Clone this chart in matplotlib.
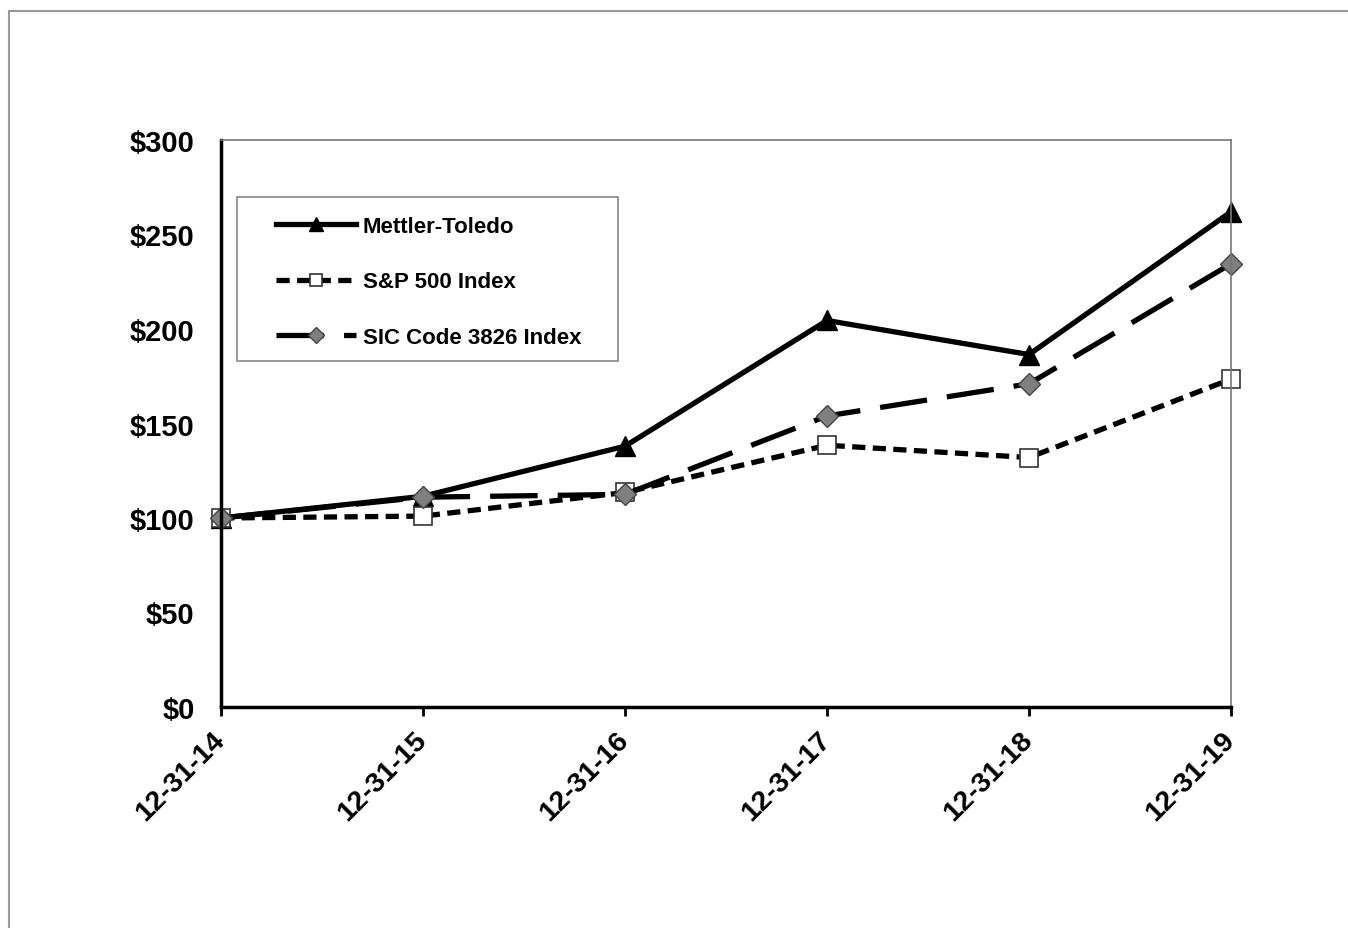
#-*- coding: utf-8 -*-
# ----- Include library -----
import matplotlib
matplotlib.use("Agg")
import matplotlib.pyplot as plt
from matplotlib.patches import Rectangle

# ----- Data -----
dates = ["12-31-14", "12-31-15", "12-31-16", "12-31-17", "12-31-18", "12-31-19"]
mettler = [100, 111.5, 138, 204.5, 186.5, 262]
sp500 = [100, 101, 113.5, 138.5, 132, 173.5]
sic3826 = [100, 111, 112.5, 154, 171, 234.5]
yticks = [0, 50, 100, 150, 200, 250, 300]

plt.rcParams['font.family'] = ['Liberation Sans', 'DejaVu Sans']
plt.rcParams['font.weight'] = 'bold'

fig = plt.figure(figsize=(13.48, 9.29), dpi=100)
# outer frame (only top/left visible in the reference)
fig.patches.append(Rectangle((9/1348, -0.05), 1.2, 1 - 12/929 + 0.05, transform=fig.transFigure,
                             fill=False, edgecolor='#999999', linewidth=1.5))

ax = fig.add_axes([221/1348, 1 - 708/929, 1010/1348, 567/929])
x = list(range(len(dates)))

ax.plot(x, mettler, color='black', linewidth=3.8, marker='^', markersize=15,
        markerfacecolor='black', markeredgecolor='black', label='Mettler-Toledo',
        clip_on=False)
ax.plot(x, sp500, color='black', linewidth=3.8, dashes=(2.5, 1.4), marker='s', markersize=13,
        markerfacecolor='white', markeredgecolor='#333333', markeredgewidth=1.2,
        label='S&P 500 Index', clip_on=False)
ax.plot(x, sic3826, color='black', linewidth=3.8, dashes=(9, 3.8), marker='D', markersize=11,
        markerfacecolor='#7f7f7f', markeredgecolor='#444444', markeredgewidth=1.0,
        label='SIC Code 3826 Index', clip_on=False)

ax.set_xlim(0, 5)
ax.set_ylim(0, 300)
ax.set_yticks(yticks)
ax.set_yticklabels(["$%d" % v for v in yticks], fontsize=21, fontweight='bold')
ax.set_xticks(x)
ax.set_xticklabels(dates, fontsize=20.5, fontweight='bold', rotation=45,
                   ha='right', va='center', rotation_mode='anchor')
ax.tick_params(axis='y', length=0, pad=19)
ax.tick_params(axis='x', direction='out', length=6.5, width=2, pad=14)

for s in ['left', 'bottom']:
    ax.spines[s].set_linewidth(2.5)
    ax.spines[s].set_color('black')
for s in ['top', 'right']:
    ax.spines[s].set_linewidth(1.2)
    ax.spines[s].set_color('#777777')

# legend box drawn separately, legend itself without frame
ax.add_patch(Rectangle((16/1010, 346/567), 381/1010, 164/567, transform=ax.transAxes,
                       fill=False, edgecolor='#888888', linewidth=1.2, zorder=5))
leg = ax.legend(loc='upper left', bbox_to_anchor=(55/1010, 491/567), frameon=False,
                prop={'weight': 'bold', 'size': 16}, markerscale=0.7,
                handlelength=3.6, handletextpad=0.3, labelspacing=1.55,
                borderpad=0, borderaxespad=0)

fig.savefig("out.png", dpi=100)
